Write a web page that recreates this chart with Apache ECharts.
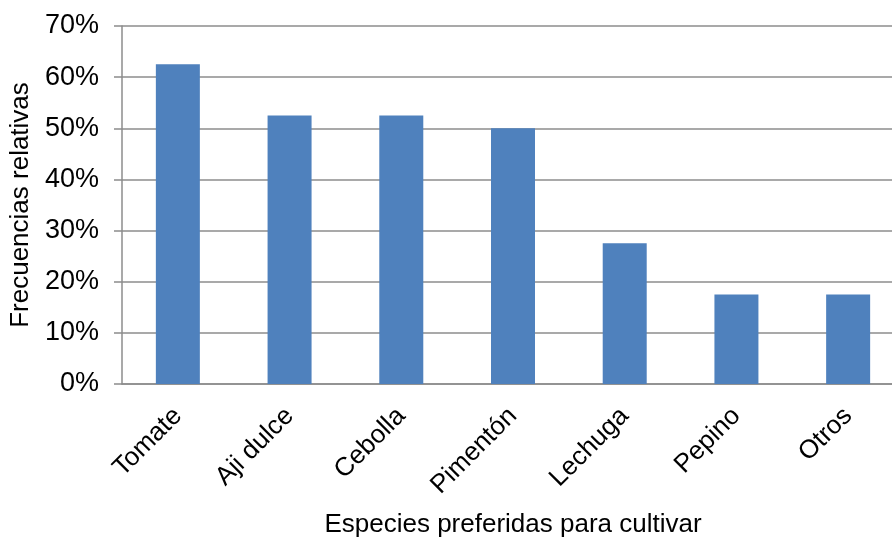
<!DOCTYPE html>
<html>
<head>
<meta charset="utf-8">
<script src="https://cdn.jsdelivr.net/npm/echarts@6/dist/echarts.min.js"></script>
<style>
  html, body { margin: 0; padding: 0; background: #ffffff; }
  #chart { width: 892px; height: 537px; }
</style>
</head>
<body>
<div id="chart"></div>
<script>
// Preferred crop species and their relative frequencies (%)
const categories = ['Tomate', 'Aji dulce', 'Cebolla', 'Pimentón', 'Lechuga', 'Pepino', 'Otros'];
const frequencies = [62.5, 52.5, 52.5, 50, 27.5, 17.5, 17.5];
const yTicks = { min: 0, max: 70, interval: 10 };
const xTitle = 'Especies preferidas para cultivar';
const yTitle = 'Frecuencias relativas';

const font = 'Liberation Sans, Arial, sans-serif';
const gridGray = '#8c8c8c';

const chart = echarts.init(document.getElementById('chart'), null, { renderer: 'canvas' });

chart.setOption({
  backgroundColor: '#ffffff',
  animation: false,
  grid: {
    left: 122, top: 26, width: 782, height: 358,
    containLabel: false,
    outerBoundsMode: 'none'
  },
  xAxis: {
    type: 'category',
    data: categories,
    name: xTitle,
    nameLocation: 'middle',
    nameGap: 128,
    nameTextStyle: { fontFamily: font, fontSize: 26, color: '#000' },
    axisLine: { show: true, lineStyle: { color: gridGray, width: 1.5 } },
    axisTick: { show: false },
    axisLabel: {
      rotate: 45,
      margin: 28,
      interval: 0,
      fontFamily: font,
      fontSize: 26,
      color: '#000'
    }
  },
  yAxis: {
    type: 'value',
    min: yTicks.min,
    max: yTicks.max,
    interval: yTicks.interval,
    name: yTitle,
    nameLocation: 'middle',
    nameGap: 87,
    nameRotate: 90,
    nameTextStyle: { fontFamily: font, fontSize: 26, color: '#000' },
    axisLine: { show: true, lineStyle: { color: gridGray, width: 1.5 } },
    axisTick: { show: true, length: 8, lineStyle: { color: gridGray, width: 1.5 } },
    axisLabel: {
      formatter: '{value}%',
      margin: 23,
      fontFamily: font,
      fontSize: 27,
      color: '#000'
    },
    splitLine: { show: true, lineStyle: { color: gridGray, width: 1.5 } }
  },
  series: [{
    type: 'bar',
    data: frequencies,
    barWidth: 44,
    itemStyle: { color: '#4F81BD' }
  }]
});
</script>
</body>
</html>
